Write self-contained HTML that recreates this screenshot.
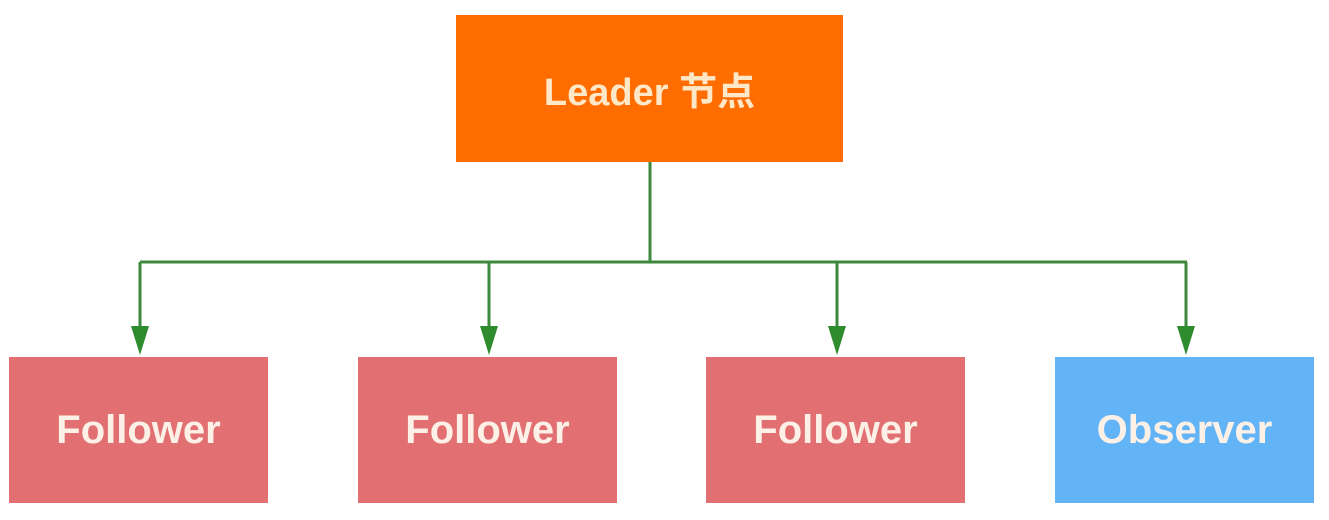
<!DOCTYPE html>
<html><head><meta charset="utf-8"><style>
body{margin:0;width:1329px;height:520px;background:#fff;overflow:hidden;position:relative;font-family:"Liberation Sans","Noto Sans CJK SC",sans-serif}
.b{position:absolute;color:#fdf0e6;display:flex;align-items:center;justify-content:center;font-size:40px;font-weight:bold}
.f{background:#e27073;top:357px;width:259px;height:146px}
</style></head><body>
<div class="b" style="left:456px;top:15px;width:387px;height:147px;background:#ff6d00;font-size:38px;color:#ffe8c8">Leader 节点</div>
<svg width="1329" height="520" style="position:absolute;left:0;top:0">
<g stroke="#3d8a3d" stroke-width="3" fill="none">
<path d="M650 162V262M140 262H1187M140 262V330M489 262V330M837 262V330M1186 262V330"/>
</g>
<g fill="#2e8b2e">
<path d="M131 326H149L140 355Z"/><path d="M480 326H498L489 355Z"/><path d="M828 326H846L837 355Z"/><path d="M1177 326H1195L1186 355Z"/>
</g>
</svg>
<div class="b f" style="left:9px">Follower</div>
<div class="b f" style="left:358px">Follower</div>
<div class="b f" style="left:706px">Follower</div>
<div class="b" style="left:1055px;top:357px;width:259px;height:146px;background:#62b4f7">Observer</div>
</body></html>
